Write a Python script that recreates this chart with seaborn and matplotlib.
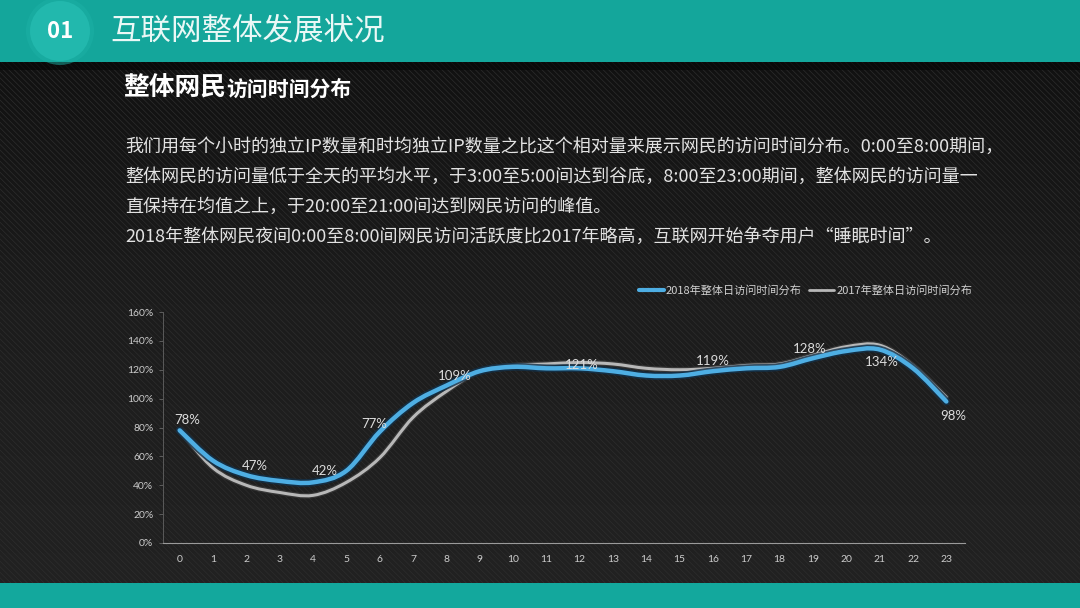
import numpy as np
import pandas as pd
import matplotlib
matplotlib.use("Agg")
import matplotlib.pyplot as plt
from matplotlib.path import Path
from matplotlib.patches import PathPatch, Rectangle, Circle
from matplotlib.lines import Line2D
import matplotlib.patheffects as pe
import seaborn as sns

# data
hours = list(range(24))
visits_2018 = [78, 57, 47, 43, 42, 50, 77, 97, 109, 119, 122, 121,
               121, 119, 116, 116, 119, 121, 122, 128, 133, 134, 121, 98]
visits_2017 = [78, 52, 40, 35, 33, 42, 59, 87, 105, 119, 123, 124,
               125, 124, 121, 120, 121, 123, 124, 130, 136, 137, 123, 101]
series_names = ["2018年整体日访问时间分布", "2017年整体日访问时间分布"]
label_hours = [0, 2, 4, 6, 8, 12, 16, 19, 21, 23]
y_ticks = [0, 20, 40, 60, 80, 100, 120, 140, 160]

header_title = "互联网整体发展状况"
section_no = "01"
sub_bold = "整体网民"
sub_rest = "访问时间分布"
paragraph = [
    "我们用每个小时的独立IP数量和时均独立IP数量之比这个相对量来展示网民的访问时间分布。0:00至8:00期间，",
    "整体网民的访问量低于全天的平均水平，于3:00至5:00间达到谷底，8:00至23:00期间，整体网民的访问量一",
    "直保持在均值之上，于20:00至21:00间达到网民访问的峰值。",
    "2018年整体网民夜间0:00至8:00间网民访问活跃度比2017年略高，互联网开始争夺用户“睡眠时间”。",
]

sns.set_theme(style="dark")
plt.rcParams['font.family'] = ['Noto Sans CJK SC', 'DejaVu Sans']
plt.rcParams['hatch.linewidth'] = 0.5

W, H = 1080, 608
fig = plt.figure(figsize=(W / 100, H / 100), dpi=100)
fig.patch.set_facecolor("#1a1a1a")

# background layer in pixel coordinates
bg = fig.add_axes([0, 0, 1, 1])
bg.set_xlim(0, W)
bg.set_ylim(H, 0)
bg.axis("off")
grad = np.linspace(0, 1, 200).reshape(-1, 1)
bg.imshow(grad, extent=[0, W, H, 0], cmap=matplotlib.colors.LinearSegmentedColormap.from_list(
    "bgc", ["#0f0f0f", "#1c1c1c", "#222222"]), aspect="auto", zorder=0)
bg.add_patch(Rectangle((0, 0), W, H, facecolor="none", edgecolor="#2d2d2d",
                       hatch="\\\\\\\\\\\\", linewidth=0, zorder=1))
# header band + bottom band
bg.add_patch(Rectangle((0, 62), W, 8, facecolor="#050505", alpha=0.6, linewidth=0, zorder=2))
bg.add_patch(Rectangle((0, 0), W, 62, facecolor="#14a69b", linewidth=0, zorder=3))
bg.add_patch(Rectangle((0, 583), W, 25, facecolor="#13a89d", linewidth=0, zorder=3))
bg.add_patch(Circle((60, 31), 34, facecolor="#1db1a6", alpha=0.5, linewidth=0, zorder=4))
bg.add_patch(Circle((60, 31), 30, facecolor="#22b8ad", linewidth=0, zorder=4))
bg.text(60, 32, section_no, color="white", fontsize=16, fontweight="bold",
        ha="center", va="center", zorder=5)
bg.text(110, 31, header_title, color="#eaf8f6", fontsize=22, ha="left", va="center", zorder=5)

bg.text(123, 96, sub_bold, color="white", fontsize=18.5, fontweight="bold",
        ha="left", va="baseline", zorder=5)
bg.text(226, 96, sub_rest, color="white", fontsize=15, fontweight="bold",
        ha="left", va="baseline", zorder=5)
for i, line in enumerate(paragraph):
    bg.text(125, 147 + 30 * i, line, color="#e2e2e2", fontsize=13,
            ha="left", va="center", zorder=5)

# chart axes
left, right, top, bottom = 163, 965, 312, 543
ax = fig.add_axes([left / W, 1 - bottom / H, (right - left) / W, (bottom - top) / H])
ax.set_facecolor("none")

df = pd.DataFrame({
    "hour": hours * 2,
    "value": visits_2017 + visits_2018,
    "series": [series_names[1]] * 24 + [series_names[0]] * 24,
})
palette = {series_names[0]: "#4eaee3", series_names[1]: "#b8b8b8"}
sns.lineplot(data=df, x="hour", y="value", hue="series",
             hue_order=[series_names[1], series_names[0]],
             palette=palette, ax=ax, legend=False)


def smooth_path(xy):
    # cubic bezier through every data point (Excel-style smoothed line)
    pts = np.asarray(xy)
    verts = [pts[0]]
    codes = [Path.MOVETO]
    n = len(pts)
    for i in range(n - 1):
        p0 = pts[max(i - 1, 0)]
        p1 = pts[i]
        p2 = pts[i + 1]
        p3 = pts[min(i + 2, n - 1)]
        c1 = p1 + (p2 - p0) / 6.0
        c2 = p2 - (p3 - p1) / 6.0
        verts += [c1, c2, p2]
        codes += [Path.CURVE4] * 3
    return Path(verts, codes)


styles = {"#b8b8b8": (2.2, "#3a3a3a", 4.0), "#4eaee3": (3.2, "#12314a", 5.6)}
for ln in list(ax.lines):
    col = matplotlib.colors.to_hex(ln.get_color())
    lw, shadow, slw = styles.get(col, (2.5, "#222222", 4.5))
    patch = PathPatch(smooth_path(ln.get_xydata()), facecolor="none",
                      edgecolor=col, linewidth=lw, capstyle="round", zorder=3,
                      path_effects=[pe.Stroke(linewidth=slw, foreground=shadow, alpha=0.8),
                                    pe.Normal()])
    ax.add_patch(patch)
    ln.set_visible(False)

# data labels (offsets in pixels, style only)
offsets = {0: (8, 10), 2: (8, 9), 4: (12, 11), 6: (-5, 8), 8: (8, 10),
           12: (2, 3), 16: (0, 10), 19: (-3, 9), 21: (2, -12), 23: (7, -14)}
for h in label_hours:
    dx, dy = offsets[h]
    ax.annotate(f"{visits_2018[h]}%", (hours[h], visits_2018[h]),
                xytext=(dx * 0.72, dy * 0.72), textcoords="offset points",
                ha="center", va="center", color="#dcdcdc", fontsize=9.5,
                family=["Lato", "DejaVu Sans"], zorder=5)

ax.set_xlim(-0.5, 23.56)
ax.set_ylim(0, 160)
ax.set_xticks(hours)
ax.set_xticklabels([str(h) for h in hours])
ax.set_yticks(y_ticks)
ax.set_yticklabels([f"{v}%" for v in y_ticks])
ax.set_xlabel("")
ax.set_ylabel("")
ax.grid(False)
for lab in ax.get_xticklabels() + ax.get_yticklabels():
    lab.set_family(["Lato", "DejaVu Sans"])
ax.tick_params(axis="x", colors="#cccccc", labelsize=7.5, length=0, pad=9)
ax.tick_params(axis="y", colors="#cccccc", labelsize=7.5, length=3, width=0.6,
               direction="out", pad=4, left=True)
ax.tick_params(axis="y", color="#666666")
for s in ["top", "right"]:
    ax.spines[s].set_visible(False)
ax.spines["left"].set_color("#5a5a5a")
ax.spines["left"].set_linewidth(0.7)
ax.spines["bottom"].set_color("#9a9a9a")
ax.spines["bottom"].set_linewidth(0.8)

handles = [Line2D([], [], color="#4eaee3", linewidth=3),
           Line2D([], [], color="#b8b8b8", linewidth=2)]
leg = fig.legend(handles, series_names, loc="center right",
                 bbox_to_anchor=(982 / W, 1 - 291 / H), ncol=2, frameon=False,
                 fontsize=8, handlelength=2.2, handletextpad=0.2, columnspacing=0.7,
                 labelcolor="#d0d0d0")

fig.savefig("out.png", dpi=100, facecolor=fig.get_facecolor())
